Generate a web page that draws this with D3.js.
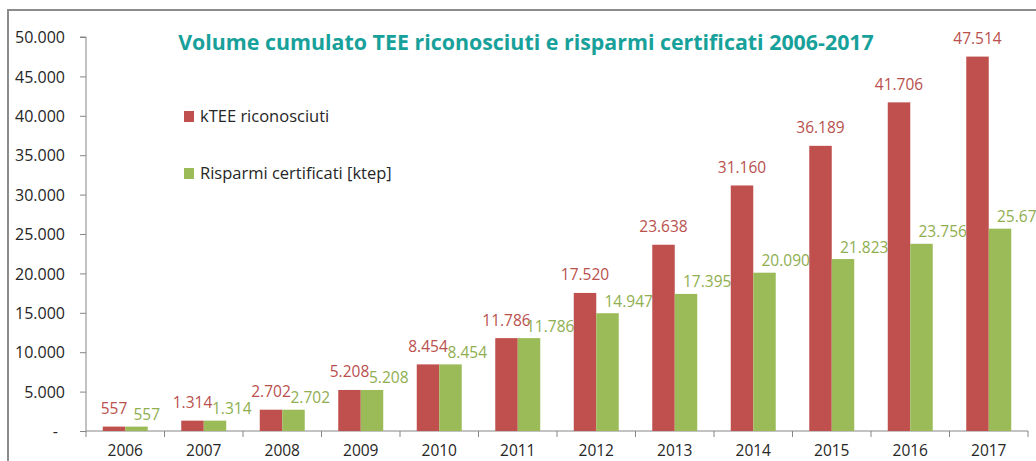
<!DOCTYPE html>
<html><head><meta charset="utf-8">
<script src="https://cdn.jsdelivr.net/npm/d3@7"></script>
<style>
html,body{margin:0;padding:0;background:#fff;overflow:hidden}
svg{display:block}
text{font-family:"Open Sans",sans-serif}
</style></head>
<body>
<svg id="chart" width="1036" height="461"></svg>
<script>
const years = ["2006","2007","2008","2009","2010","2011","2012","2013","2014","2015","2016","2017"];
const kTEE = [557,1314,2702,5208,8454,11786,17520,23638,31160,36189,41706,47514];
const risparmi = [557,1314,2702,5208,8454,11786,14947,17395,20090,21823,23756,25677];
const seriesNames = ["kTEE riconosciuti","Risparmi certificati [ktep]"];
const yTicks = [0,5000,10000,15000,20000,25000,30000,35000,40000,45000,50000];
const titleText = "Volume cumulato TEE riconosciuti e risparmi certificati 2006-2017";

const colors = ["#C0504D","#9BBB59"];
const labelColors = ["#B9504D","#8FAE4F"];

const locale = d3.formatLocale({decimal:",",thousands:".",grouping:[3],currency:["","€"]});
const fmt = locale.format(",d");

const svg = d3.select("#chart");
const W = 1036, H = 461;

// frame
svg.append("path").attr("d",`M8,${H+2} L8,10 L${W+2},10`).attr("fill","none").attr("stroke","#8c8c8c").attr("stroke-width",2);

const pLeft = 86, pRight = 1028, pTop = 37, pBottom = 431;
const x0 = d3.scaleBand().domain(years).range([pLeft,pRight]).padding(0);
const x1 = d3.scaleBand().domain([0,1]).range([0,x0.bandwidth()]).paddingInner(0).paddingOuter(0.745);
const y = d3.scaleLinear().domain([0,50000]).range([pBottom,pTop]);

// y axis
const yAxis = d3.axisLeft(y).tickValues(yTicks).tickSize(6).tickPadding(15)
  .tickFormat(d => d===0 ? "-" : fmt(d));
const gy = svg.append("g").attr("transform",`translate(${pLeft},0)`).call(yAxis);
gy.select(".domain").attr("stroke","#868686").attr("d",`M-6,${pTop}H0V${pBottom}`);
gy.selectAll(".tick line").attr("stroke","#868686");
gy.selectAll(".tick text").attr("fill","#262626").style("font-size","16px").attr("dy","0.36em")
  .attr("dx",d=> d===0 ? -7 : 0);

// x axis
const gx = svg.append("g").attr("transform",`translate(0,${pBottom})`)
  .call(d3.axisBottom(x0).tickSize(0).tickPadding(14));
gx.select(".domain").attr("stroke","#868686").attr("d",`M${pLeft},0H${pRight}`);
gx.selectAll(".tick text").attr("fill","#262626").style("font-size","15.5px");
gx.selectAll("line.sep").data(years.concat(["end"])).enter().append("line")
  .attr("class","sep")
  .attr("x1",(d,i)=> i<years.length ? x0(d) : pRight)
  .attr("x2",(d,i)=> i<years.length ? x0(d) : pRight)
  .attr("y1",0).attr("y2",6).attr("stroke","#868686");

// bars
const data = years.map((yr,i)=>({year:yr, vals:[kTEE[i], risparmi[i]]}));
const groups = svg.append("g").selectAll("g").data(data).enter().append("g")
  .attr("transform",d=>`translate(${x0(d.year)},0)`);
groups.selectAll("rect").data(d=>d.vals.map((v,k)=>({v,k}))).enter().append("rect")
  .attr("x",d=>x1(d.k)).attr("width",x1.bandwidth())
  .attr("y",d=>y(d.v)).attr("height",d=>pBottom-y(d.v))
  .attr("fill",d=>colors[d.k]);
groups.selectAll("text").data(d=>d.vals.map((v,k)=>({v,k}))).enter().append("text")
  .attr("x",d=> d.k===0 ? x1(0)+x1.bandwidth()/2 : x1(1)+x1.bandwidth()/2-3)
  .attr("y",d=> y(d.v) - (d.k===0 ? 12.5 : 6.5))
  .attr("text-anchor",d=> d.k===0 ? "middle" : "start")
  .attr("fill",d=>labelColors[d.k])
  .style("font-size","15.5px")
  .text(d=>fmt(d.v));

// title
const title = svg.append("text").attr("x",526).attr("y",50).attr("text-anchor","middle")
  .attr("fill","#17A19A").style("font-weight","bold").style("font-size","22px").text(titleText);
const tw = title.node().getComputedTextLength();
title.style("font-size",(22*696/tw).toFixed(2)+"px");

// legend
const leg = svg.append("g");
const legY = [116,173];
seriesNames.forEach((name,k)=>{
  leg.append("rect").attr("x",184).attr("y",legY[k]-5).attr("width",10).attr("height",11).attr("fill",colors[k]);
  leg.append("text").attr("x",200).attr("y",legY[k]+6).attr("fill","#262626").style("font-size","16.5px").text(name);
});
</script>
</body></html>
